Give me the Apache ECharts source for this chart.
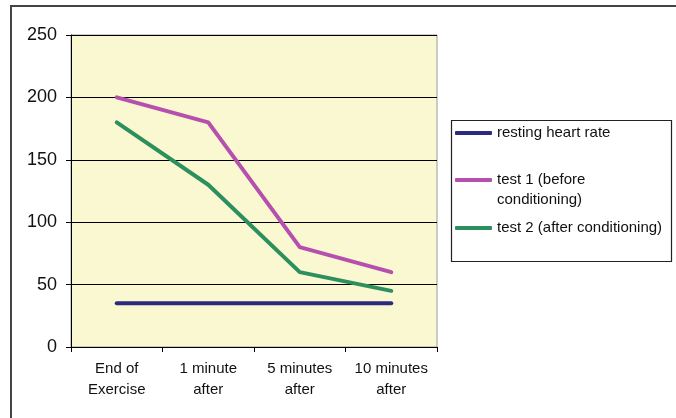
<!DOCTYPE html>
<html>
<head>
<meta charset="utf-8">
<script src="https://cdn.jsdelivr.net/npm/echarts@6/dist/echarts.min.js"></script>
<style>
html,body{margin:0;padding:0;background:#fff;}
#chart{width:676px;height:418px;}
</style>
</head>
<body>
<div id="chart"></div>
<script>
const categories = ['End of\nExercise', '1 minute\nafter', '5 minutes\nafter', '10 minutes\nafter'];
const restingHeartRate = [35, 35, 35, 35];
const test1Before = [200, 180, 80, 60];
const test2After = [180, 130, 60, 45];
const yTicks = { min: 0, max: 250, interval: 50 };

const names = ['resting heart rate', 'test 1 (before conditioning)', 'test 2 (after conditioning)'];
const colors = ['#2B2A7C', '#B64FAE', '#2E8F5E'];
const FONT = 'Liberation Sans, Arial, sans-serif';

const chart = echarts.init(document.getElementById('chart'), null, { renderer: 'canvas' });

function legendFor(i, top, extra) {
  return Object.assign({
    show: true,
    data: [names[i]],
    left: 455,
    top: top,
    padding: 0,
    orient: 'vertical',
    itemWidth: 37,
    itemHeight: 4,
    icon: 'roundRect',
    selectedMode: false,
    textStyle: { fontFamily: FONT, fontSize: 15, color: '#111', lineHeight: 20 }
  }, extra || {});
}

const option = {
  animation: false,
  backgroundColor: '#ffffff',
  grid: {
    left: 71, top: 35, right: 239, bottom: 71,
    show: true, backgroundColor: '#F9F8D0', borderColor: '#9a9a9a', borderWidth: 1
  },
  xAxis: {
    type: 'category',
    data: categories,
    boundaryGap: true,
    axisLine: { show: true, lineStyle: { color: '#000', width: 1 } },
    axisTick: { show: true, length: 5, inside: false, lineStyle: { color: '#000' } },
    axisLabel: { fontFamily: FONT, fontSize: 15, color: '#111', lineHeight: 21, margin: 11, interval: 0 },
    splitLine: { show: false }
  },
  yAxis: {
    type: 'value',
    min: yTicks.min, max: yTicks.max, interval: yTicks.interval,
    axisLine: { show: true, lineStyle: { color: '#000', width: 1 } },
    axisTick: { show: true, length: 5, lineStyle: { color: '#000' } },
    axisLabel: { fontFamily: FONT, fontSize: 18, color: '#111', margin: 14 },
    splitLine: { show: true, lineStyle: { color: '#000', width: 1 } }
  },
  legend: [
    legendFor(0, 123),
    legendFor(1, 150, {
      formatter: function () { return ' \ntest 1 (before\nconditioning)'; }
    }),
    legendFor(2, 218)
  ],
  graphic: [
    { type: 'rect', silent: true, z: -1, shape: { x: 11, y: 6, width: 700, height: 500 },
      style: { fill: 'none', stroke: '#444', lineWidth: 2 } },
    { type: 'rect', silent: true, shape: { x: 451.5, y: 120.5, width: 220, height: 141 },
      style: { fill: '#fff', stroke: '#222', lineWidth: 1.2 }, z: 0 }
  ],
  series: [
    { name: names[0], type: 'line', data: restingHeartRate, symbol: 'none', color: colors[0],
      lineStyle: { width: 4, color: colors[0], cap: 'round', join: 'round' }, z: 3 },
    { name: names[1], type: 'line', data: test1Before, symbol: 'none', color: colors[1],
      lineStyle: { width: 4, color: colors[1], cap: 'round', join: 'round' }, z: 3 },
    { name: names[2], type: 'line', data: test2After, symbol: 'none', color: colors[2],
      lineStyle: { width: 4, color: colors[2], cap: 'round', join: 'round' }, z: 3 }
  ]
};
chart.setOption(option);
</script>
</body>
</html>
